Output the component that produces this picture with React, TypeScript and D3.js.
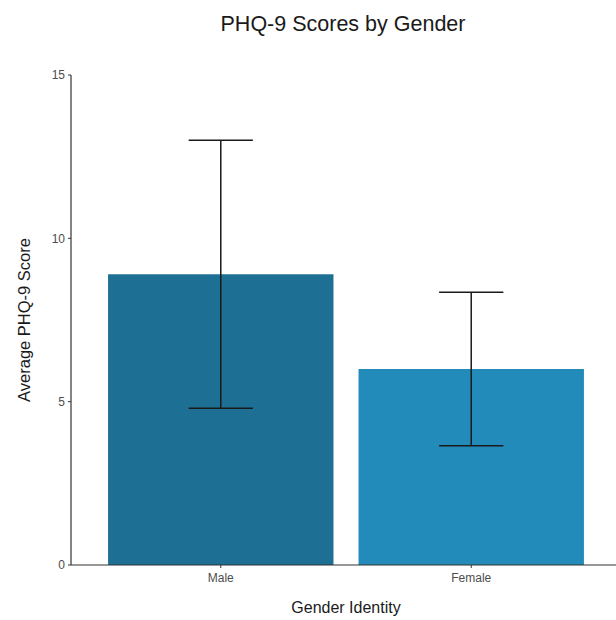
import React from "react";
import { scaleBand, scaleLinear } from "d3";

const categories = ["Male", "Female"];
const meanScores = [8.9, 6.0];
const lowerScores = [4.8, 3.65];
const upperScores = [13.0, 8.35];
const barColors = ["#1e6f94", "#238bba"];
const yTicks = [0, 5, 10, 15];

const width = 616;
const height = 620;
const margin = { top: 75, right: -5, bottom: 55, left: 71 };

const App = () => {
  const x = scaleBand<string>()
    .domain(categories)
    .range([margin.left, width - margin.right])
    .paddingInner(0.1)
    .paddingOuter(0.148);

  const y = scaleLinear()
    .domain([0, 15])
    .range([height - margin.bottom, margin.top]);

  const capW = x.bandwidth() * 0.285;
  const font = "'Liberation Sans', Arial, sans-serif";

  return (
    <svg
      width={width}
      height={height}
      style={{ position: "absolute", left: 0, top: 0, background: "#fff" }}
      fontFamily={font}
    >
      <text x={343} y={31} textAnchor="middle" fontSize={21.5} fill="#1a1a1a">
        PHQ-9 Scores by Gender
      </text>

      {/* bars */}
      {categories.map((c, i) => (
        <rect
          key={c}
          x={x(c)}
          y={y(meanScores[i])}
          width={x.bandwidth()}
          height={y(0) - y(meanScores[i])}
          fill={barColors[i]}
        />
      ))}

      {/* error bars */}
      {categories.map((c, i) => {
        const cx = (x(c) as number) + x.bandwidth() / 2;
        return (
          <g key={c} stroke="#1a1a1a" strokeWidth={1.5}>
            <line x1={cx} x2={cx} y1={y(upperScores[i])} y2={y(lowerScores[i])} />
            <line x1={cx - capW / 2} x2={cx + capW / 2} y1={y(upperScores[i])} y2={y(upperScores[i])} />
            <line x1={cx - capW / 2} x2={cx + capW / 2} y1={y(lowerScores[i])} y2={y(lowerScores[i])} />
          </g>
        );
      })}

      {/* y axis */}
      <line x1={margin.left} x2={margin.left} y1={y(15)} y2={y(0)} stroke="#333" strokeWidth={1.2} />
      {yTicks.map((t) => (
        <g key={t}>
          <line x1={margin.left - 3} x2={margin.left} y1={y(t)} y2={y(t)} stroke="#333" />
          <text x={margin.left - 6} y={y(t)} dy="0.35em" textAnchor="end" fontSize={12} fill="#4d4d4d">
            {t}
          </text>
        </g>
      ))}

      {/* x axis */}
      <line x1={margin.left} x2={width} y1={y(0)} y2={y(0)} stroke="#333" strokeWidth={1.2} />
      {categories.map((c) => {
        const cx = (x(c) as number) + x.bandwidth() / 2;
        return (
          <g key={c}>
            <line x1={cx} x2={cx} y1={y(0)} y2={y(0) + 3} stroke="#333" />
            <text x={cx} y={y(0) + 17} textAnchor="middle" fontSize={12} fill="#4d4d4d">
              {c}
            </text>
          </g>
        );
      })}

      <text x={346} y={613} textAnchor="middle" fontSize={16} fill="#1a1a1a">
        Gender Identity
      </text>
      <text
        transform={`translate(30,${(y(0) + y(15)) / 2}) rotate(-90)`}
        textAnchor="middle"
        fontSize={16.5}
        fill="#1a1a1a"
      >
        Average PHQ-9 Score
      </text>
    </svg>
  );
};

export default App;
